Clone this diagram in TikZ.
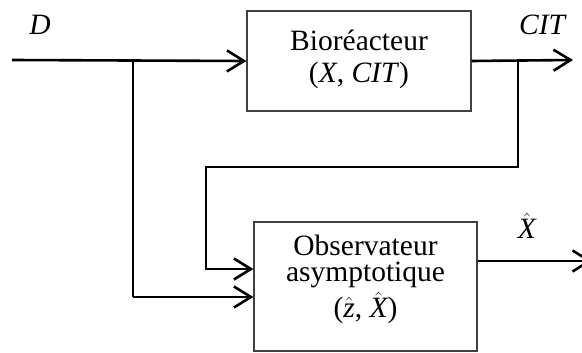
\documentclass[tikz,border=0pt]{standalone}
\usepackage{fontspec}
\setmainfont{Liberation Serif}
\usetikzlibrary{arrows.meta}
\begin{document}
\begin{tikzpicture}[x=1pt,y=-1pt,
  blk/.style={draw=black!75, line width=1.2pt, fill=white},
  lbl/.style={font=\fontsize{29.5}{34}\selectfont, inner sep=0pt},
  wire/.style={line width=2.6pt},
  arr/.style={wire, -{Straight Barb[length=17pt,width=21pt,line width=2.6pt]}}]
\useasboundingbox (0,0) rectangle (582,353);
\node[blk, minimum width=224pt, minimum height=100pt] (bio) at (359,61) {};
\node[blk, minimum width=223pt, minimum height=129pt] (obs) at (365.5,286.5) {};
\node[lbl] (t1) at (359,40) {Bioréacteur};
\node[lbl] (t2) at (359,75) {(\textit{X}, \textit{CIT})};
\node[lbl] (t3) at (365.5,245) {Observateur};
\node[lbl] (t4) at (365.5,275) {asymptotique};
\node[lbl] (t5) at (365.5,308) {($\hat{\textit{z}}$, $\hat{\textit{X}}$)};
\node[lbl] (lD) at (40,25) {\textit{D}};
\node[lbl] (lC) at (543,25) {\textit{CIT}};
\node[lbl] (lX) at (527,226) {$\hat{\textit{X}}$};
\coordinate (in) at (12,60);
\coordinate (j1) at (133,60);
\coordinate (j2) at (518,60);
\coordinate (out) at (573,60);
\coordinate (f) at (206,167);
\coordinate (f2) at (206,269);
\coordinate (b2) at (133,297);
\coordinate (xo) at (592,261);
\draw[arr] (in) -- (bio.west);
\draw[arr] (bio.east) -- (out);
\draw[wire] (j1) -- (b2);
\draw[arr] (b2) -- (obs.west |- b2);
\draw[arr] (j2) |- (f) -- (f2) -- (obs.west |- f2);
\draw[arr] (obs.east |- xo) -- (xo);
\end{tikzpicture}
\end{document}
